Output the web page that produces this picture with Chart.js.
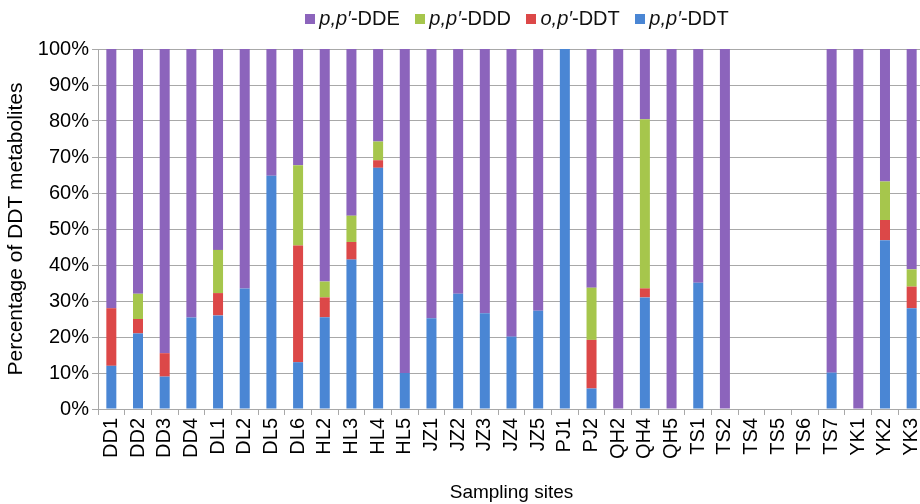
<!DOCTYPE html>
<html lang="en">
<head>
  <meta charset="UTF-8" />
  <title>Percentage of DDT metabolites by sampling site</title>
  <script src="https://cdn.jsdelivr.net/npm/chart.js"></script>
  <style>
    body {
      margin: 0;
      background: #fff;
      overflow: hidden;
      font-family: "Liberation Sans", Arial, sans-serif;
    }
    #wrap {
      position: relative;
      width: 1000px;
      height: 504px;
    }
    #legend {
      position: absolute;
      top: 7px;
      left: 0;
      width: 1034px;
      text-align: center;
      font-size: 20px;
      color: #111;
      white-space: nowrap;
    }
    #legend span.item {
      margin: 0 5px;
    }
    #legend i.box {
      display: inline-block;
      width: 10px;
      height: 10px;
      margin-right: 4px;
      vertical-align: 1px;
    }
  </style>
</head>
<body>
  <div id="wrap">
    <div id="legend">
      <span class="item"><i class="box" style="background:#8c64bc"></i><em>p,p′</em>-DDE</span>
      <span class="item"><i class="box" style="background:#a6c64c"></i><em>p,p′</em>-DDD</span>
      <span class="item"><i class="box" style="background:#dc4848"></i><em>o,p′</em>-DDT</span>
      <span class="item"><i class="box" style="background:#4a86d4"></i><em>p,p′</em>-DDT</span>
    </div>
    <canvas id="chart" width="1000" height="504"></canvas>
  </div>

  <script>
    const sites = ["DD1", "DD2", "DD3", "DD4", "DL1", "DL2", "DL5", "DL6", "HL2", "HL3", "HL4", "HL5",
      "JZ1", "JZ2", "JZ3", "JZ4", "JZ5", "PJ1", "PJ2", "QH2", "QH4", "QH5", "TS1", "TS2",
      "TS4", "TS5", "TS6", "TS7", "YK1", "YK2", "YK3"];

    // % of each metabolite per site (TS4-TS6 empty)
    const ppDDT = [12, 21, 9, 25.4, 26, 33.5, 64.8, 13, 25.5, 41.5, 67, 10,
      25.2, 32, 26.6, 20.1, 27.3, 100, 5.7, 0, 31, 0, 35.1, 0,
      0, 0, 0, 10.1, 0, 46.9, 28];
    const opDDT = [16, 4, 6.5, 0, 6.2, 0, 0, 32.4, 5.5, 4.9, 2.1, 0,
      0, 0, 0, 0, 0, 0, 13.5, 0, 2.5, 0, 0, 0,
      0, 0, 0, 0, 0, 5.6, 6];
    const ppDDD = [0, 7, 0, 0, 12, 0, 0, 22.3, 4.4, 7.3, 5.2, 0,
      0, 0, 0, 0, 0, 0, 14.5, 0, 47, 0, 0, 0,
      0, 0, 0, 0, 0, 10.7, 4.8];
    const ppDDE = [72, 68, 84.5, 74.6, 55.8, 66.5, 35.2, 32.3, 64.6, 46.3, 25.7, 90,
      74.8, 68, 73.4, 79.9, 72.7, 0, 66.3, 100, 19.5, 100, 64.9, 100,
      0, 0, 0, 89.9, 100, 36.8, 61.2];
    const yTicks = [0, 10, 20, 30, 40, 50, 60, 70, 80, 90, 100];

    const FONT = "'Liberation Sans', Arial, sans-serif";
    const GRID = "#a8a8a8";

    function serie(label, data, color) {
      return {
        label: label,
        data: data,
        backgroundColor: color,
        borderWidth: 0,
        barPercentage: 0.375,
        categoryPercentage: 1
      };
    }

    new Chart(document.getElementById("chart"), {
      type: "bar",
      data: {
        labels: sites,
        datasets: [
          serie("p,p'-DDT", ppDDT, "#4a86d4"),
          serie("o,p'-DDT", opDDT, "#dc4848"),
          serie("p,p'-DDD", ppDDD, "#a6c64c"),
          serie("p,p'-DDE", ppDDE, "#8c64bc")
        ]
      },
      options: {
        responsive: false,
        animation: false,
        devicePixelRatio: 1,
        layout: { padding: { top: 49, right: 75, left: 0, bottom: 0 } },
        plugins: {
          legend: { display: false },
          tooltip: { enabled: false }
        },
        scales: {
          x: {
            stacked: true,
            afterFit: s => { s.height = 95; },
            grid: {
              drawOnChartArea: false,
              offset: true,
              tickLength: 6,
              color: GRID
            },
            border: { color: GRID },
            ticks: {
              autoSkip: false,
              minRotation: 90,
              maxRotation: 90,
              padding: 3,
              color: "#000",
              font: { family: FONT, size: 20 }
            },
            title: {
              display: true,
              text: "Sampling sites",
              color: "#000",
              padding: { top: 0, bottom: 0 },
              font: { family: FONT, size: 19 }
            }
          },
          y: {
            stacked: true,
            min: 0,
            max: 100,
            afterFit: s => { s.width = 98; },
            afterBuildTicks: s => { s.ticks = yTicks.map(v => ({ value: v })); },
            grid: { color: GRID, tickLength: 6 },
            border: { color: GRID },
            ticks: {
              padding: 3,
              color: "#000",
              font: { family: FONT, size: 20 },
              callback: v => v + "%"
            },
            title: {
              display: true,
              text: "Percentage of DDT metabolites",
              color: "#000",
              padding: { top: 4, bottom: 0 },
              font: { family: FONT, size: 21 }
            }
          }
        }
      }
    });
  </script>
</body>
</html>
